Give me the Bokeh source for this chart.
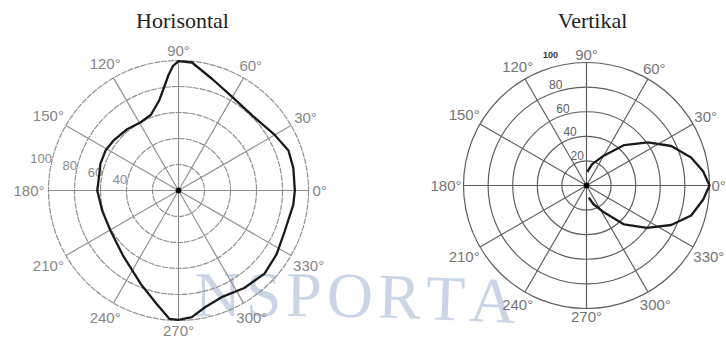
import numpy as np
from bokeh.plotting import figure
from bokeh.models import Range1d
from bokeh.embed import file_html
from bokeh.resources import INLINE
from bokeh.core.properties import value

# ---------------- data ----------------
titles = ["Horisontal", "Vertikal"]

# Horizontal pattern: angle (deg) -> relative level (0..100)
h_angles = [0, 11, 20, 30, 45, 60, 73, 84, 90, 92.5, 95, 98, 102, 110, 119, 130,
            142, 151, 161, 175, 180, 195, 210, 230, 248, 259, 266, 270, 276, 283,
            292, 304, 316, 327, 339, 353, 360]
h_values = [89.5, 90, 90, 85.5, 81, 83, 89.5, 99, 99.5, 96, 89, 80, 71, 62, 60, 61.5,
            63, 64, 63.5, 62, 62.5, 60.7, 60.7, 66, 77.5, 88.7, 99, 99.5, 98, 92,
            88.5, 90.5, 92, 90, 87.5, 89, 89.5]

# Vertical pattern
v_angles = [87, 75, 60, 47, 35, 25, 15, 7, 0, -7, -16, -25, -35, -46, -57, -70, -79]
v_values = [11, 18, 28, 45, 61, 76, 88, 95.5, 100, 95.5, 88.5, 76, 60, 44, 26, 16, 10]

ring_values = [20, 40, 60, 80, 100]
h_ring_labels = ["40", "60", "80", "100"]
v_ring_labels = ["20", "40", "60", "80", "100"]
spoke_angles = list(range(0, 360, 30))
angle_labels = [f"{a}°" for a in spoke_angles]
watermark = "NSPORTA"

# ---------------- layout ----------------
W, H = 726, 340
LEFT = dict(cx=178, cy=150, R=130, grid="#909090", dash="6 1", lab="#858585", gap=4)
RIGHT = dict(cx=586, cy=155, R=123, grid="#5e5e5e", dash="solid", lab="#757575", gap=2)

p = figure(width=W, height=H, x_range=Range1d(0, W), y_range=Range1d(0, H),
           output_backend="svg", toolbar_location=None,
           x_axis_type=None, y_axis_type=None, min_border=0)
p.grid.visible = False
p.outline_line_color = None
p.background_fill_color = "white"
p.border_fill_color = "white"

# ---------------- watermark (behind, along a gentle arc) ----------------
wm_fs = 64
track = 5
em = {"N": .722, "S": .556, "P": .556, "O": .722, "R": .667, "T": .611, "A": .722}
arc_x0, arc_mid, rho = 250, 294, 5000
arc_cy_pix = arc_mid + rho
s = 194 - arc_x0
wx, wy, wa = [], [], []
for ch in watermark:
    w = em[ch] * wm_fs
    phi = (s + w / 2) / rho
    wx.append(arc_x0 + rho * np.sin(phi))
    wy.append(H - (arc_cy_pix - rho * np.cos(phi)))
    wa.append(-phi)
    s += w + track
p.text(x=wx, y=wy, text=list(watermark), angle=wa, text_font=value("Liberation Serif"),
       text_font_size=f"{wm_fs}px", text_color="#cad6e6", text_align="center",
       text_baseline="middle")


def polar_xy(L, r, ang):
    a = np.radians(np.asarray(ang, dtype=float))
    rr = np.asarray(r, dtype=float) * L["R"] / 100.0
    return L["cx"] + rr * np.cos(a), L["cy"] + rr * np.sin(a)


def draw_grid(L):
    p.circle(x=[L["cx"]] * len(ring_values), y=[L["cy"]] * len(ring_values),
             radius=[L["R"] * v / 100 for v in ring_values], fill_color=None,
             line_color=L["grid"], line_width=1.2, line_dash=L["dash"])
    ex, ey = polar_xy(L, [100] * len(spoke_angles), spoke_angles)
    p.segment(x0=[L["cx"]] * len(spoke_angles), y0=[L["cy"]] * len(spoke_angles),
              x1=ex, y1=ey, line_color=L["grid"], line_width=1.2)
    # angle labels
    fs = 15
    lx, ly = [], []
    for a, t in zip(spoke_angles, angle_labels):
        w = (0.556 * (len(t) - 1) + 0.4) * fs
        h = 0.75 * fs
        ar = np.radians(a)
        d = L["R"] + L["gap"] + abs(np.cos(ar)) * w / 2 + abs(np.sin(ar)) * h / 2
        lx.append(L["cx"] + d * np.cos(ar))
        ly.append(L["cy"] + d * np.sin(ar))
    p.text(x=lx, y=ly, text=angle_labels, text_font=value("Liberation Sans"),
           text_font_size=f"{fs}px", text_color=L["lab"], text_align="center",
           text_baseline="middle")
    p.scatter(x=[L["cx"]], y=[L["cy"]], size=5, color="black")


draw_grid(LEFT)
draw_grid(RIGHT)

# ring labels, left plot
hv = [float(t) for t in h_ring_labels]
hx, hy = polar_xy(LEFT, hv, [165] * len(hv))
p.text(x=list(hx - 1), y=list(hy - 2), text=h_ring_labels, text_font=value("Liberation Sans"),
       text_font_size="13px", text_color="#8a8a8a", text_align="right",
       text_baseline="middle")

# ring labels, right plot
vv = [float(t) for t in v_ring_labels[:-1]]
a107 = np.radians(107)
rx = [RIGHT["cx"] + (RIGHT["R"] * v / 100 + 7) * np.cos(a107) for v in vv]
ry = [RIGHT["cy"] + (RIGHT["R"] * v / 100 + 7) * np.sin(a107) for v in vv]
p.text(x=rx, y=ry, text=v_ring_labels[:-1], text_font=value("Liberation Sans"),
       text_font_size="12px", text_color="#606060", text_align="center",
       text_baseline="middle")
a105 = np.radians(105.5)
d100 = RIGHT["R"] + 12
p.text(x=[RIGHT["cx"] + d100 * np.cos(a105)], y=[RIGHT["cy"] + d100 * np.sin(a105)],
       text=[v_ring_labels[-1]], text_font=value("Liberation Sans"),
       text_font_size="9px", text_font_style="bold", text_color="#333333",
       text_align="center", text_baseline="middle")

# ---------------- patterns ----------------
x1, y1 = polar_xy(LEFT, h_values, h_angles)
p.line(x=x1, y=y1, line_color="#1a1a1a", line_width=2.3, line_join="round")
x2, y2 = polar_xy(RIGHT, v_values, v_angles)
p.line(x=x2, y=y2, line_color="#1a1a1a", line_width=2.3, line_join="round")

# ---------------- titles ----------------
p.text(x=[LEFT["cx"] + 4, RIGHT["cx"] + 6], y=[H - 20, H - 20], text=titles,
       text_font=value("Liberation Serif"), text_font_size="22px", text_color="#222222",
       text_align="center", text_baseline="middle")

open("out.html", "w").write(file_html(p, INLINE))
